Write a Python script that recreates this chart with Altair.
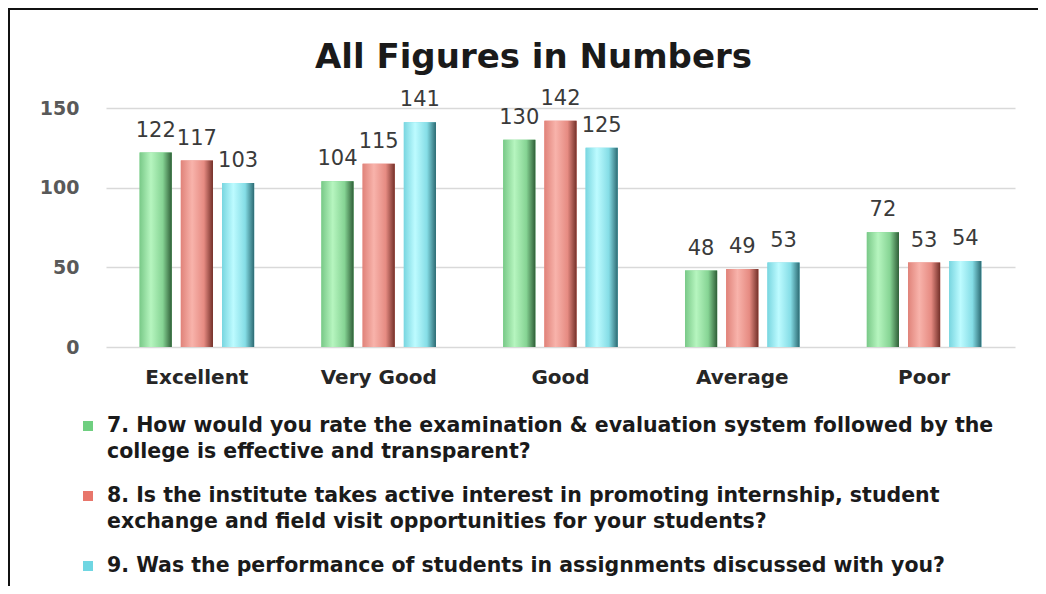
import altair as alt
import pandas as pd

categories = ["Excellent", "Very Good", "Good", "Average", "Poor"]
series = [
    "7. How would you rate the examination & evaluation system followed by the college is effective and transparent?",
    "8. Is the institute takes active interest in promoting internship, student exchange and field visit opportunities for your students?",
    "9. Was the performance of students in assignments discussed with you?",
]
series_lines = [
    ["7. How would you rate the examination & evaluation system followed by the",
     "college is effective and transparent?"],
    ["8. Is the institute takes active interest in promoting internship, student",
     "exchange and field visit opportunities for your students?"],
    ["9. Was the performance of students in assignments discussed with you?"],
]
q7 = [122, 104, 130, 48, 72]
q8 = [117, 115, 142, 49, 53]
q9 = [103, 141, 125, 53, 54]

solid = ["#6fcf80", "#e8766b", "#6fd6e2"]
grad_stops = [
    ["#79c988", "#b6f5bf", "#86d494", "#2f5e37"],
    ["#e0837a", "#f8b3ab", "#e68b82", "#733029"],
    ["#79d6e0", "#bdfbff", "#85dde6", "#2c6a72"],
]

rows = []
for s, vals in zip(series, [q7, q8, q9]):
    for c, v in zip(categories, vals):
        rows.append({"category": c, "series": s, "value": v})
df = pd.DataFrame(rows)

leg_rows = []
before = 0
for e, (s, lines) in enumerate(zip(series, series_lines)):
    for i, t in enumerate(lines):
        leg_rows.append({"series": s, "entry": e, "line": i, "before": before, "text": t})
    before += len(lines)
leg_df = pd.DataFrame(leg_rows)

FONT = "DejaVu Sans"

color_scale = alt.Scale(domain=series, range=solid)

x_enc = alt.X("category:N", sort=categories, title=None,
              scale=alt.Scale(paddingInner=0.37, paddingOuter=0.185),
              axis=alt.Axis(labelFont=FONT, labelFontSize=20, labelFontWeight="bold",
                            labelColor="#262626", labelPadding=20, labelAngle=0,
                            domain=False, ticks=False, labelBaseline="top"))
xoff = alt.XOffset("series:N", sort=series, scale=alt.Scale(paddingInner=0.22, paddingOuter=0))
y_enc = alt.Y("value:Q", title=None,
              scale=alt.Scale(domain=[0, 150], nice=False),
              axis=alt.Axis(values=[0, 50, 100, 150], labelFont=FONT, labelFontSize=19,
                            labelFontWeight="bold", labelColor="#595959", labelPadding=27,
                            domain=False, ticks=False, gridColor="#d9d9d9", gridWidth=1.5))

base = alt.Chart(df)

bars = base.mark_bar().encode(
    x=x_enc, xOffset=xoff, y=y_enc,
    color=alt.Color("series:N", sort=series, scale=color_scale, legend=None),
)

layers = [bars]
for s, st in zip(series, grad_stops):
    grad = {"gradient": "linear", "x1": 0, "x2": 1, "y1": 0, "y2": 0,
            "stops": [{"offset": 0, "color": st[0]}, {"offset": 0.35, "color": st[1]},
                      {"offset": 0.72, "color": st[2]}, {"offset": 1, "color": st[3]}]}
    layers.append(
        base.transform_filter(alt.datum.series == s)
        .mark_bar(fill=grad)
        .encode(x=x_enc, xOffset=xoff, y=y_enc)
    )

labels = base.mark_text(font=FONT, fontSize=21, color="#3a3a3a", baseline="alphabetic", dy=-16).encode(
    x=x_enc, xOffset=xoff, y=y_enc, text="value:Q"
)
layers.append(labels)

# legend (drawn below the plot)
leg_base = alt.Chart(leg_df).transform_calculate(
    ypix="318 + (datum.before + datum.line) * 26 + datum.entry * 18"
)
leg_text = leg_base.mark_text(font=FONT, fontSize=20.5, fontWeight="bold", color="#1a1a1a",
                              align="left", baseline="middle").encode(
    x=alt.value(1),
    y=alt.Y("ypix:Q", scale=None, axis=None),
    text="text:N",
)
leg_sym = leg_base.transform_filter(alt.datum.line == 0).mark_square(size=100, opacity=1).encode(
    x=alt.value(-18),
    y=alt.Y("ypix:Q", scale=None, axis=None),
    color=alt.Color("series:N", sort=series, scale=color_scale, legend=None),
)
layers += [leg_sym, leg_text]

# frame lines of the picture
frame_df = pd.DataFrame({"k": [0]})
frame_top = alt.Chart(frame_df).mark_rule(color="#111111", strokeWidth=2).encode(
    x=alt.value(-98), x2=alt.value(932), y=alt.value(-99))
frame_left = alt.Chart(frame_df).mark_rule(color="#111111", strokeWidth=2).encode(
    x=alt.value(-97), y=alt.value(-100), y2=alt.value(478))
layers += [frame_top, frame_left]

chart = alt.layer(*layers).properties(
    width=909, height=239,
    autosize=alt.AutoSizeParams(type="none"),
    padding={"left": 98, "top": 100, "right": 23, "bottom": 239},
    title=alt.Title("All Figures in Numbers", font=FONT, fontSize=34, fontWeight="bold",
                    color="#1a1a1a", anchor="middle", frame="group", dx=-27,
                    baseline="bottom", offset=-102),
).configure(background="white", view=alt.ViewConfig(stroke="transparent", strokeWidth=0))

chart.save("out.html", embed_options={"renderer": "svg", "actions": False})
